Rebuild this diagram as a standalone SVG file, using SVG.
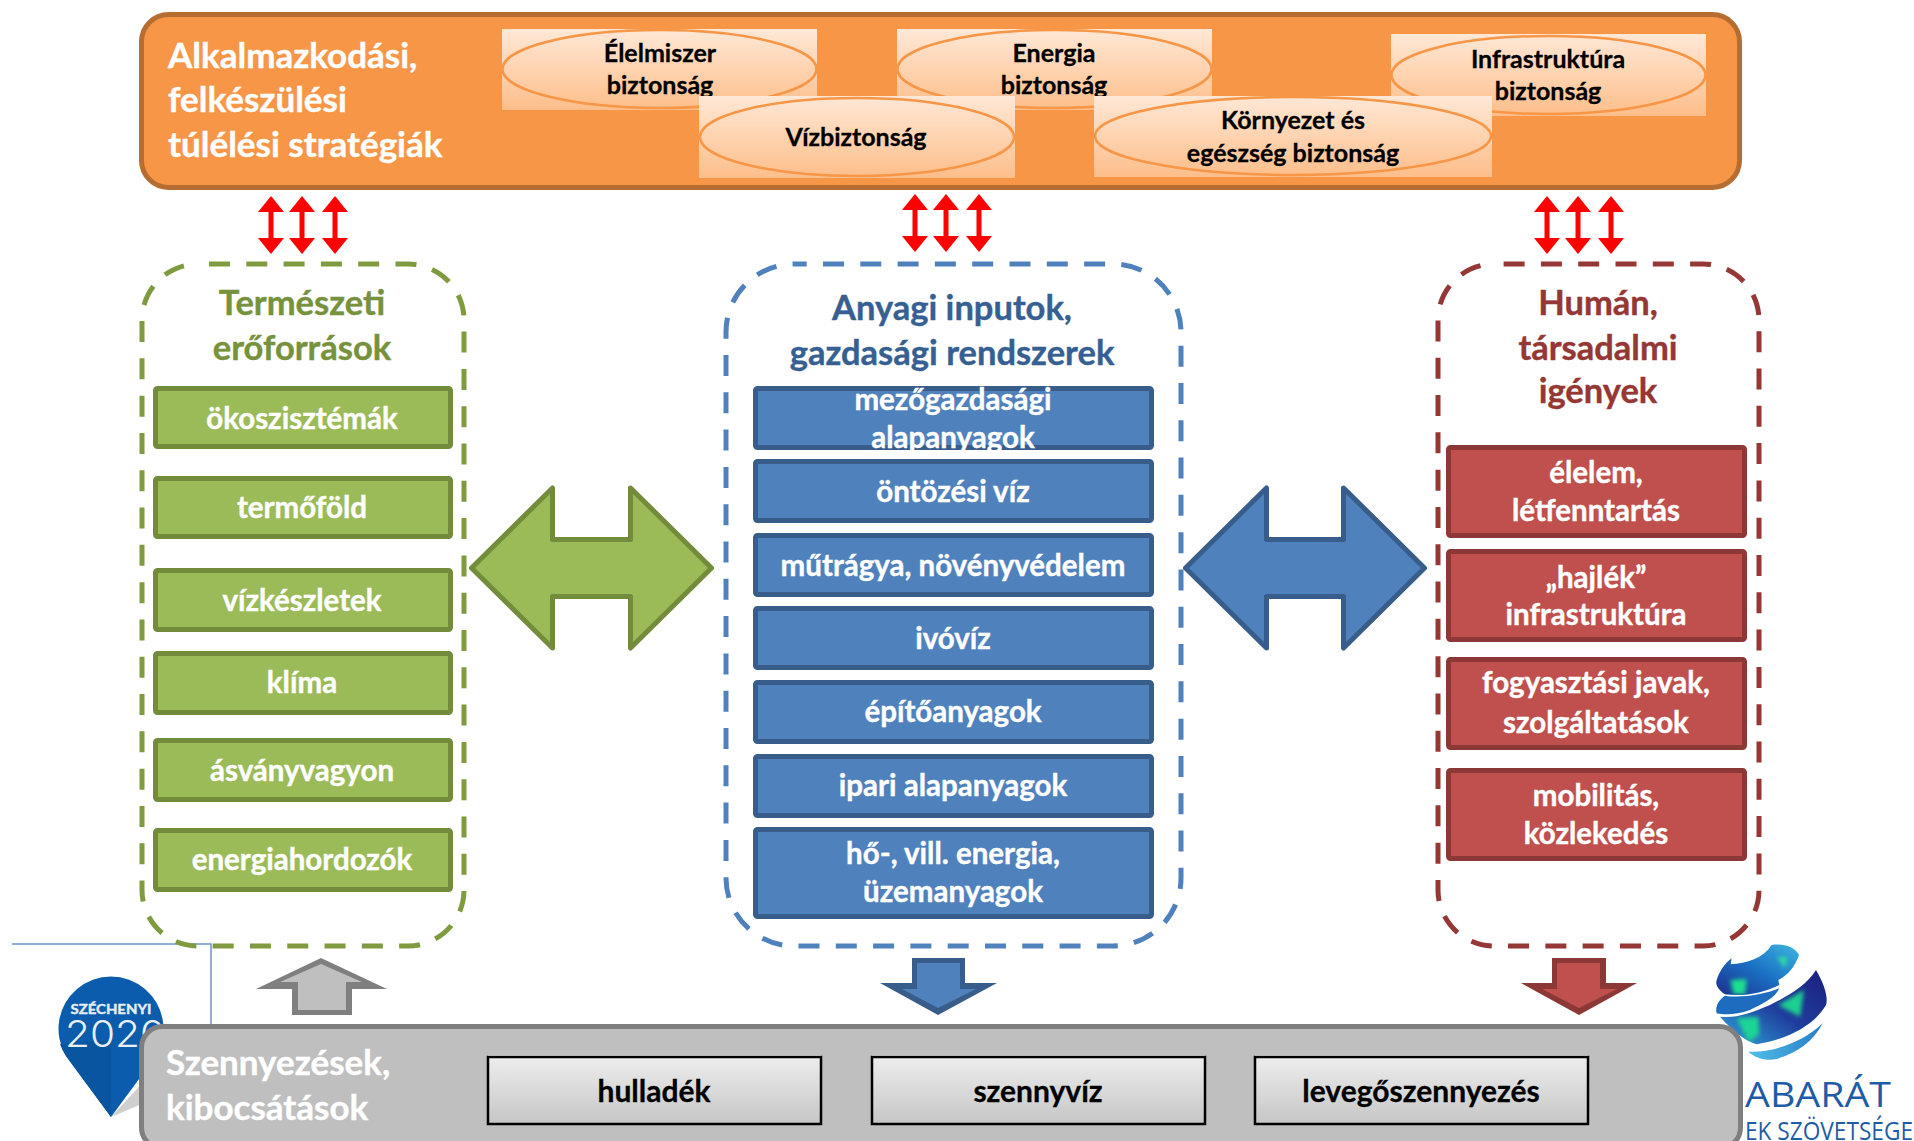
<svg xmlns="http://www.w3.org/2000/svg" width="1914" height="1141" viewBox="0 0 1914 1141">
<style>
text{font-family:Lato,"Open Sans","Liberation Sans",sans-serif;font-weight:700;text-anchor:middle}
.head{font-size:35px;fill:#fff;stroke:#fff;stroke-width:.4;text-anchor:start}
.box{font-size:29.5px;fill:#fff;stroke:#fff;stroke-width:.4}
.ell{font-size:25px;fill:#000;stroke:#000;stroke-width:.3}
.title{font-size:34.5px;stroke-width:.4}
.tg{fill:#76923c;stroke:#76923c}
.tb{fill:#366092;stroke:#366092}
.tr{fill:#953735;stroke:#953735}
.btn{font-size:30px;fill:#000;stroke:#000;stroke-width:.3}
.gb{fill:#9bbb59;stroke:#728c3c;stroke-width:5}
.bb{fill:#4f81bd;stroke:#385d8a;stroke-width:5}
.rb{fill:#c0504d;stroke:#8c3836;stroke-width:5}
.dash{fill:none;stroke-width:5;stroke-dasharray:21 16.3}
.pic{fill:url(#pf);stroke:none}
.oval{fill:none;stroke:#f79646;stroke-width:2.5}
.sq{fill:url(#bg);stroke:#000;stroke-width:2.5}
.hi{fill:none;stroke:#f2f2f2;stroke-width:1}
.glow{filter:url(#soft)}
</style>
<defs>
<filter id="soft" x="-50%" y="-50%" width="200%" height="200%"><feGaussianBlur stdDeviation="7"/></filter>
<linearGradient id="pf" x1="0" y1="0" x2="0" y2="1"><stop offset="0" stop-color="#ffe8d6"/><stop offset="1" stop-color="#fdbe8a"/></linearGradient>
<linearGradient id="bg" x1="0" y1="0" x2="0" y2="1"><stop offset="0" stop-color="#ededed"/><stop offset="1" stop-color="#c6c6c6"/></linearGradient>
<linearGradient id="g1" x1="1" y1="0" x2="0" y2="1"><stop offset="0" stop-color="#3fb6e0"/><stop offset=".5" stop-color="#1a70c4"/><stop offset="1" stop-color="#1c2f8c"/></linearGradient>
<linearGradient id="g2" x1="1" y1="0" x2="0" y2="1"><stop offset="0" stop-color="#1c1f7e"/><stop offset=".5" stop-color="#1f3d9c"/><stop offset="1" stop-color="#2fa8dc"/></linearGradient>
<linearGradient id="g3" x1="1" y1="0" x2="0" y2="0"><stop offset="0" stop-color="#2a7cc8"/><stop offset="1" stop-color="#4fc0e8"/></linearGradient>
<path id="rr" d="M0,0 L13,16 H2.500 V42 H13 L0,58 L-13,42 H-2.500 V16 H-13 Z" fill="#f00"/>
<clipPath id="c1"><rect x="502" y="29" width="315" height="81"/></clipPath>
<clipPath id="c2"><rect x="897" y="29" width="315" height="81"/></clipPath>
<clipPath id="c3"><rect x="1391" y="34" width="315" height="82"/></clipPath>
<clipPath id="c4"><rect x="699" y="96" width="316" height="82"/></clipPath>
<clipPath id="c5"><rect x="1094" y="96" width="398" height="81"/></clipPath>
<clipPath id="c6"><rect x="753" y="386" width="401" height="64"/></clipPath>
<clipPath id="gl"><path d="M215,30 C250,25 285,35 297,60 C285,95 265,120 235,135 L238,150 C190,175 130,185 75,178 C55,165 45,150 50,135 C60,105 75,85 95,70 L92,88 C140,85 190,70 215,30 Z M348,105 C375,150 385,190 378,210 C350,260 280,310 170,328 C140,320 100,290 60,245 C110,250 150,235 210,210 C270,180 320,150 348,105 Z"/></clipPath>
</defs>

<g id="logo-szechenyi">
<path d="M12,944 H211 V1030" fill="none" stroke="#6b97c4" stroke-width="1.5"/>
<path d="M111,1117 L175,1090 V1060 L150,1075 Z" fill="#cfcfcf"/>
<path d="M111,1117 L66,1056 A52.500,52.500 0 1 1 156,1056 Z" fill="#0b5cac"/>
<path d="M111,1117 L66,1056 Q62,1050 60,1044 L111,1040 Z" fill="#0a559f"/>
<text x="111" y="1014" font-size="13" fill="#e6edf6" stroke="#e6edf6" stroke-width=".4" textLength="81" lengthAdjust="spacingAndGlyphs">SZÉCHENYI</text>
<text x="65" y="1047" font-size="37" fill="#e8eff7" style="text-anchor:start;font-weight:300;font-family:Inter,Lato,sans-serif" textLength="100" lengthAdjust="spacingAndGlyphs">2020</text>
</g>

<g id="logo-globe">
<g transform="translate(1700,935) scale(.3333)">
<path d="M215,30 C250,25 285,35 297,60 C285,95 265,120 235,135 L238,150 C190,175 130,185 75,178 C55,165 45,150 50,135 C60,105 75,85 95,70 L92,88 C140,85 190,70 215,30 Z" fill="url(#g1)"/>
<path d="M75,182 C120,190 190,180 238,160 C225,190 190,205 150,225 C110,240 75,240 50,235 C45,215 55,195 75,182 Z" fill="#1d6cc0"/>
<path d="M348,105 C375,150 385,190 378,210 C350,260 280,310 170,328 C140,320 100,290 60,245 C110,250 150,235 210,210 C270,180 320,150 348,105 Z" fill="url(#g2)"/>
<g clip-path="url(#gl)">
<path class="glow" d="M232,66 L262,66 L255,100 Z" fill="#2fe0a0"/>
<path class="glow" d="M92,135 L140,132 L135,178 L100,176 Z" fill="#1fe08f"/>
<path class="glow" d="M235,210 L312,165 L300,245 Z" fill="#1fcf90"/>
<path class="glow" d="M110,250 L175,245 L178,298 L145,322 Z" fill="#1fd493"/>
</g>
<path d="M368,265 C340,320 290,355 230,372 C200,378 170,372 145,350 C200,355 300,330 368,265 Z" fill="url(#g3)"/>
</g>
<text x="1818" y="1107" font-size="34" fill="#1f5ca8" style="font-weight:400;font-family:'Open Sans',Lato,sans-serif" textLength="146" lengthAdjust="spacingAndGlyphs">ABARÁT</text>
<text x="1745" y="1140" font-size="26" fill="#1f5ca8" style="font-weight:400;text-anchor:start;font-family:'Open Sans',Lato,sans-serif" textLength="168" lengthAdjust="spacingAndGlyphs">EK SZÖVETSÉGE</text>
</g>

<g id="node-strategies">
<rect x="141.500" y="14.500" width="1598" height="173" rx="27" fill="#f79646" stroke="#b66d31" stroke-width="5"/>
<text class="head" x="168" y="68">Alkalmazkodási,</text>
<text class="head" x="168" y="112">felkészülési</text>
<text class="head" x="168" y="157">túlélési stratégiák</text>
</g>
<g id="node-elelmiszer">
<rect class="pic" x="502" y="29" width="315" height="81"/>
<ellipse class="oval" cx="659.500" cy="69" rx="157" ry="39" clip-path="url(#c1)"/>
<text class="ell" x="660" y="62">Élelmiszer</text>
<text class="ell" x="660" y="94">biztonság</text>
</g>
<g id="node-energia">
<rect class="pic" x="897" y="29" width="315" height="81"/>
<ellipse class="oval" cx="1054.500" cy="69" rx="157" ry="39" clip-path="url(#c2)"/>
<text class="ell" x="1054" y="62">Energia</text>
<text class="ell" x="1054" y="94">biztonság</text>
</g>
<g id="node-infra">
<rect class="pic" x="1391" y="34" width="315" height="82"/>
<ellipse class="oval" cx="1548.500" cy="75" rx="157" ry="39" clip-path="url(#c3)"/>
<text class="ell" x="1548" y="68">Infrastruktúra</text>
<text class="ell" x="1548" y="100">biztonság</text>
</g>
<g id="node-viz">
<rect class="pic" x="699" y="96" width="316" height="82"/>
<ellipse class="oval" cx="857" cy="137" rx="157" ry="39" clip-path="url(#c4)"/>
<text class="ell" x="856" y="146">Vízbiztonság</text>
</g>
<g id="node-kornyezet">
<rect class="pic" x="1094" y="96" width="398" height="81"/>
<ellipse class="oval" cx="1293" cy="136" rx="198" ry="39" clip-path="url(#c5)"/>
<text class="ell" x="1293" y="129">Környezet és</text>
<text class="ell" x="1293" y="162">egészség biztonság</text>
</g>

<g id="node-termeszeti">
<rect class="dash" x="142" y="264" width="322" height="682" rx="56" stroke="#7f9a3f" stroke-dashoffset="-11"/>
<text class="title tg" x="302" y="315">Természeti</text>
<text class="title tg" x="302" y="360">erőforrások</text>
</g>
<g id="n-oko"><rect class="gb" x="155.500" y="388.500" width="295" height="58" rx="2"/><text class="box" x="302" y="429">ökoszisztémák</text></g>
<g id="n-fold"><rect class="gb" x="155.500" y="478.500" width="295" height="58" rx="2"/><text class="box" x="302" y="518">termőföld</text></g>
<g id="n-vizk"><rect class="gb" x="155.500" y="570.500" width="295" height="59" rx="2"/><text class="box" x="302" y="611">vízkészletek</text></g>
<g id="n-klima"><rect class="gb" x="155.500" y="653.500" width="295" height="59" rx="2"/><text class="box" x="302" y="693">klíma</text></g>
<g id="n-asvany"><rect class="gb" x="155.500" y="740.500" width="295" height="59" rx="2"/><text class="box" x="302" y="781">ásványvagyon</text></g>
<g id="n-energ"><rect class="gb" x="155.500" y="830.500" width="295" height="59" rx="2"/><text class="box" x="302" y="870">energiahordozók</text></g>

<g id="node-anyagi">
<rect class="dash" x="726" y="264" width="455" height="682" rx="68" stroke="#4f81bd" stroke-dashoffset="-29"/>
<text class="title tb" x="952" y="320">Anyagi inputok,</text>
<text class="title tb" x="952" y="365">gazdasági rendszerek</text>
</g>
<g id="b-mezo"><rect class="bb" x="755.500" y="388.500" width="396" height="59" rx="2"/><g clip-path="url(#c6)"><text class="box" x="953" y="410">mezőgazdasági</text><text class="box" x="953" y="448">alapanyagok</text></g></g>
<g id="b-ontoz"><rect class="bb" x="755.500" y="461.500" width="396" height="59" rx="2"/><text class="box" x="953" y="502">öntözési víz</text></g>
<g id="b-mut"><rect class="bb" x="755.500" y="535.500" width="396" height="59" rx="2"/><text class="box" x="953" y="576">műtrágya, növényvédelem</text></g>
<g id="b-ivo"><rect class="bb" x="755.500" y="608.500" width="396" height="59" rx="2"/><text class="box" x="953" y="649">ivóvíz</text></g>
<g id="b-epit"><rect class="bb" x="755.500" y="682.500" width="396" height="59" rx="2"/><text class="box" x="953" y="722">építőanyagok</text></g>
<g id="b-ipar"><rect class="bb" x="755.500" y="756.500" width="396" height="59" rx="2"/><text class="box" x="953" y="796">ipari alapanyagok</text></g>
<g id="b-ho"><rect class="bb" x="755.500" y="829.500" width="396" height="87" rx="2"/><text class="box" x="953" y="864">hő-, vill. energia,</text><text class="box" x="953" y="902">üzemanyagok</text></g>

<g id="node-human">
<rect class="dash" x="1438" y="264" width="321" height="682" rx="56" stroke="#953735" stroke-dashoffset="-9.600"/>
<text class="title tr" x="1598" y="315">Humán,</text>
<text class="title tr" x="1598" y="360">társadalmi</text>
<text class="title tr" x="1598" y="403">igények</text>
</g>
<g id="r-elelem"><rect class="rb" x="1448.500" y="447.500" width="296" height="88" rx="2"/><text class="box" x="1596" y="483">élelem,</text><text class="box" x="1596" y="521">létfenntartás</text></g>
<g id="r-hajlek"><rect class="rb" x="1448.500" y="551.500" width="296" height="88" rx="2"/><text class="box" x="1596" y="588">„hajlék”</text><text class="box" x="1596" y="625">infrastruktúra</text></g>
<g id="r-fogy"><rect class="rb" x="1448.500" y="659.500" width="296" height="88" rx="2"/><text class="box" x="1596" y="693">fogyasztási javak,</text><text class="box" x="1596" y="733">szolgáltatások</text></g>
<g id="r-mob"><rect class="rb" x="1448.500" y="770.500" width="296" height="88" rx="2"/><text class="box" x="1596" y="806">mobilitás,</text><text class="box" x="1596" y="844">közlekedés</text></g>

<g id="connectors">
<use href="#rr" x="271" y="196"/><use href="#rr" x="302" y="196"/><use href="#rr" x="335" y="196"/>
<use href="#rr" x="915" y="194"/><use href="#rr" x="946" y="194"/><use href="#rr" x="979" y="194"/>
<use href="#rr" x="1547" y="196"/><use href="#rr" x="1578" y="196"/><use href="#rr" x="1611" y="196"/>
<path d="M471.500,568 L552.500,488 V539.500 H630.500 V488 L711.500,568 L630.500,648 V596.500 H552.500 V648 Z" fill="#9bbb59" stroke="#728c3c" stroke-width="5" stroke-linejoin="round"/>
<path d="M1185.500,568 L1266.500,488 V539.500 H1343.500 V488 L1424.500,568 L1343.500,648 V596.500 H1266.500 V648 Z" fill="#4f81bd" stroke="#385d8a" stroke-width="5" stroke-linejoin="round"/>
<polygon points="321,958 387,989 352,989 352,1015 292,1015 292,989 256,989" fill="#7f7f7f"/>
<polygon points="321,964 362,982 346,982 346,1010 298,1010 298,982 280,982" fill="#bfbfbf"/>
<polygon points="912,958 965,958 965,983 997,983 938,1015 880,983 912,983" fill="#385d8a"/>
<polygon points="917,963 960,963 960,989 976,989 938,1008 902,989 917,989" fill="#4f81bd"/>
<polygon points="1552,958 1606,958 1606,983 1637,983 1579,1015 1521,983 1552,983" fill="#8c3836"/>
<polygon points="1557,963 1600,963 1600,989 1617,989 1579,1008 1542,989 1557,989" fill="#c0504d"/>
</g>

<g id="node-szennyezes">
<rect x="141.500" y="1026.500" width="1599" height="122" rx="21" fill="#bfbfbf" stroke="#7f7f7f" stroke-width="5"/>
<text class="head" x="166" y="1075">Szennyezések,</text>
<text class="head" x="166" y="1120">kibocsátások</text>
</g>
<g id="s-hull"><path class="hi" d="M488,1055.500 H821"/><rect class="sq" x="488" y="1057" width="333" height="67"/><text class="btn" x="654" y="1102">hulladék</text></g>
<g id="s-szenny"><path class="hi" d="M872,1055.500 H1205"/><rect class="sq" x="872" y="1057" width="333" height="67"/><text class="btn" x="1038" y="1102">szennyvíz</text></g>
<g id="s-lev"><path class="hi" d="M1255,1055.500 H1588"/><rect class="sq" x="1255" y="1057" width="333" height="67"/><text class="btn" x="1421" y="1102">levegőszennyezés</text></g>
</svg>
